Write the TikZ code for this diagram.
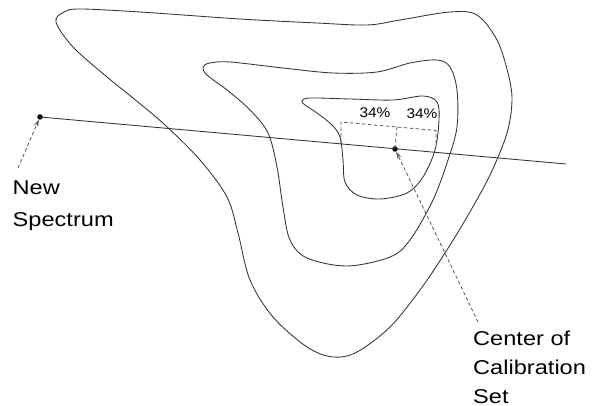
\documentclass[tikz,border=0pt]{standalone}
\usepackage{fontspec}
\setmainfont{Liberation Sans}
\usetikzlibrary{arrows.meta}
\tikzset{
  contour/.style={draw=black!80, line width=0.85pt},
  mainline/.style={draw=black!80, line width=0.85pt},
  dashline/.style={draw=black!65, line width=0.8pt, dash pattern=on 3.5pt off 2.5pt},
  dashlabelarrow/.style={dashline, -{Stealth[length=7pt,width=4.5pt]}},
  dotnode/.style={circle, fill=black, inner sep=0pt, minimum size=5.5pt},
  pct/.style={inner sep=0pt, font=\fontsize{14}{16}\selectfont},
  bigtext/.style={inner sep=0pt, anchor=north west}
}
\begin{document}
\begin{tikzpicture}[x=1pt,y=-1pt]
\useasboundingbox (0,0) rectangle (592,406);
\fill[white] (0,0) rectangle (592,406);

% outer contour
\draw[contour] plot[smooth cycle, tension=0.55] coordinates {
(56,22) (64,12) (80,9) (140,12) (240,19) (317,23) (367,25) (400,20) (450,12) (477,15)
(497,40) (508,73) (512,100) (507,133) (490,175) (467,217) (445,253) (420,290) (390,327)
(357,352) (333,357) (307,347) (273,317) (250,280) (238,233) (227,197) (200,160)
(165,125) (133,98) (107,77) (73,47)};

% middle contour
\draw[contour] plot[smooth cycle, tension=0.55] coordinates {
(203,67) (210,63) (230,62) (283,68) (333,73) (377,72) (410,63) (437,60) (450,67)
(457,90) (457,127) (448,160) (433,200) (410,240) (390,257) (347,266) (307,258)
(290,240) (283,207) (277,167) (268,133) (250,110) (227,90) (207,75)};

% inner contour
\draw[contour] plot[smooth cycle, tension=0.55] coordinates {
(302,101) (310,98) (350,99) (393,100) (423,96) (437,102) (439,120) (435,150)
(423,177) (407,193) (380,199) (357,195) (345,182) (343,160) (340,137) (332,125)
(317,113) (305,105)};

% points
\node[dotnode] (ns) at (40,117) {};
\node[dotnode] (cc) at (395,149) {};
\coordinate (lineend) at (566,164);
\draw[mainline] (ns.center) -- (lineend);

% dashed bracket
\coordinate (bl) at (341,143);
\coordinate (tl) at (341,122);
\coordinate (tr) at (436,130.5);
\coordinate (br) at (436,143);
\coordinate (tm) at (397,127);
\draw[dashline] (bl) -- (tl) -- (tr) -- (br);
\draw[dashline] (tm) -- (cc.center);

% percentage labels
\node[pct] (p1) at (375,113) {\scalebox{1.1}[1]{34\%}};
\node[pct] (p2) at (422,114) {\scalebox{1.1}[1]{34\%}};

% text labels
\node[bigtext] (nslabel) at (12.5,171.6) {\fontsize{20}{32}\selectfont\scalebox{1.18}[1]{\begin{tabular}{@{}l@{}}New\\Spectrum\end{tabular}}};
\node[bigtext] (cclabel) at (473,324.7) {\fontsize{20}{29}\selectfont\scalebox{1.18}[1]{\begin{tabular}{@{}l@{}}Center of\\Calibration\\Set\end{tabular}}};

% arrows
\coordinate (nsa) at (18,168);
\coordinate (cca) at (478,322);
\draw[dashlabelarrow] (nsa) -- (ns);
\draw[dashlabelarrow] (cca) -- (cc);
\end{tikzpicture}
\end{document}
